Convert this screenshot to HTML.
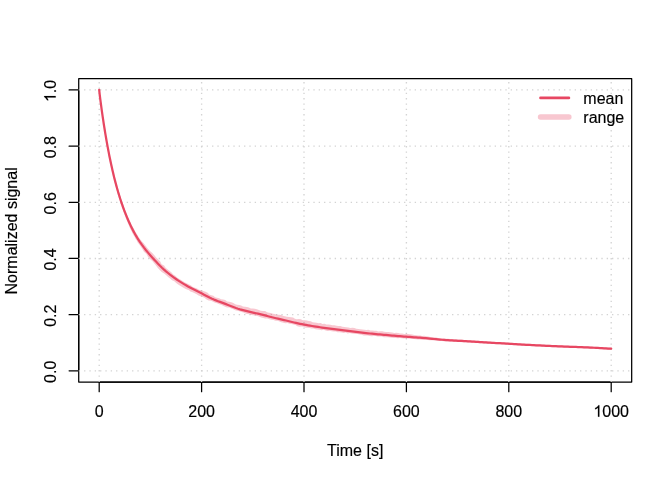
<!DOCTYPE html>
<html><head><meta charset="utf-8"><title>plot</title>
<style>
html,body{margin:0;padding:0;background:#fff;}
svg{display:block;}
svg{will-change:transform;}
text{font-family:"Liberation Sans",sans-serif;font-size:16px;fill:#000;stroke:#000;stroke-width:0.16px;}
</style></head><body>
<svg width="672" height="480" viewBox="0 0 672 480">
<rect x="0" y="0" width="672" height="480" fill="#fff"/>

<rect x="78.72" y="78.72" width="552.96" height="303.36" fill="none" stroke="#000" stroke-width="1.25" stroke-linejoin="round"/>
<g stroke="#000" stroke-width="1.25" fill="none" stroke-linecap="round">
<path d="M99.20,382.08 L611.20,382.08"/>
<path d="M99.20,382.08 L99.20,391.68"/>
<path d="M201.60,382.08 L201.60,391.68"/>
<path d="M304.00,382.08 L304.00,391.68"/>
<path d="M406.40,382.08 L406.40,391.68"/>
<path d="M508.80,382.08 L508.80,391.68"/>
<path d="M611.20,382.08 L611.20,391.68"/>
<path d="M78.72,370.84 L78.72,89.95"/>
<path d="M78.72,370.84 L69.12,370.84"/>
<path d="M78.72,314.67 L69.12,314.67"/>
<path d="M78.72,258.49 L69.12,258.49"/>
<path d="M78.72,202.31 L69.12,202.31"/>
<path d="M78.72,146.13 L69.12,146.13"/>
<path d="M78.72,89.95 L69.12,89.95"/>
</g>
<text x="99.20" y="416.64" text-anchor="middle">0</text>
<text x="201.60" y="416.64" text-anchor="middle">200</text>
<text x="304.00" y="416.64" text-anchor="middle">400</text>
<text x="406.40" y="416.64" text-anchor="middle">600</text>
<text x="508.80" y="416.64" text-anchor="middle">800</text>
<path transform="translate(593.403,416.640) scale(0.0078125,-0.0078125)" d="M763,0 H583 V1147 Q518,1085 412.5,1023 Q307,961 223,930 V1104 Q374,1175 487,1276 Q600,1377 647,1472 H763 Z" fill="#000" stroke="#000" stroke-width="20"/>
<text x="602.302" y="416.64">000</text>
<text transform="translate(55.68,371.84) rotate(-90)" text-anchor="middle">0.0</text>
<text transform="translate(55.68,315.67) rotate(-90)" text-anchor="middle">0.2</text>
<text transform="translate(55.68,259.49) rotate(-90)" text-anchor="middle">0.4</text>
<text transform="translate(55.68,203.31) rotate(-90)" text-anchor="middle">0.6</text>
<text transform="translate(55.68,147.13) rotate(-90)" text-anchor="middle">0.8</text>
<g transform="translate(55.68,90.95) rotate(-90)"><path transform="translate(-11.121,0.000) scale(0.0078125,-0.0078125)" d="M763,0 H583 V1147 Q518,1085 412.5,1023 Q307,961 223,930 V1104 Q374,1175 487,1276 Q600,1377 647,1472 H763 Z" fill="#000" stroke="#000" stroke-width="20"/><text x="-2.223" y="0">.0</text></g>
<text x="355.2" y="456" text-anchor="middle">Time [s]</text>
<text transform="translate(17.28,230.9) rotate(-90)" text-anchor="middle">Normalized signal</text>
<g stroke="#d3d3d3" stroke-width="1.333" fill="none" stroke-dasharray="1.333 4">
<path d="M99.20,382.08 L99.20,78.72"/>
<path d="M201.60,382.08 L201.60,78.72"/>
<path d="M304.00,382.08 L304.00,78.72"/>
<path d="M406.40,382.08 L406.40,78.72"/>
<path d="M508.80,382.08 L508.80,78.72"/>
<path d="M611.20,382.08 L611.20,78.72"/>
<path d="M78.72,370.84 L631.68,370.84"/>
<path d="M78.72,314.67 L631.68,314.67"/>
<path d="M78.72,258.49 L631.68,258.49"/>
<path d="M78.72,202.31 L631.68,202.31"/>
<path d="M78.72,146.13 L631.68,146.13"/>
<path d="M78.72,89.95 L631.68,89.95"/>
</g>
<path d="M99.50,89.93 L100.01,94.47 L100.52,98.57 L101.03,102.44 L101.54,106.17 L102.06,109.79 L102.57,113.32 L103.08,116.76 L103.59,120.12 L104.10,123.40 L104.62,126.60 L105.13,129.73 L105.64,132.79 L106.15,135.77 L106.66,138.68 L107.17,141.53 L107.68,144.31 L108.20,147.03 L108.71,149.68 L109.22,152.28 L109.73,154.82 L110.24,157.29 L110.75,159.72 L111.26,162.09 L111.77,164.40 L112.29,166.67 L112.80,168.88 L113.31,171.05 L113.82,173.17 L114.33,175.24 L114.84,177.27 L115.35,179.25 L115.86,181.19 L116.37,183.09 L116.88,184.95 L117.39,186.77 L117.91,188.55 L118.42,190.29 L118.93,192.00 L119.44,193.67 L119.95,195.31 L120.46,196.91 L120.97,198.48 L121.49,200.02 L122.01,201.52 L122.53,202.99 L123.05,204.44 L123.57,205.85 L124.09,207.24 L124.61,208.60 L125.13,209.93 L125.65,211.24 L126.17,212.52 L126.69,213.78 L127.21,215.01 L127.70,216.24 L128.22,217.42 L128.78,218.57 L129.29,219.72 L129.82,220.83 L130.38,221.92 L130.86,223.01 L131.29,224.12 L131.84,225.14 L132.41,226.13 L132.86,227.16 L133.51,228.07 L134.03,229.03 L134.53,229.98 L134.96,230.94 L135.57,231.80 L135.90,232.78 L136.47,233.62 L137.04,234.44 L137.66,235.21 L138.11,236.07 L138.51,236.93 L139.11,237.67 L139.63,238.43 L140.15,239.19 L140.61,239.96 L141.25,240.61 L141.56,241.00 L143.85,243.62 L145.98,246.14 L147.93,248.65 L149.99,250.96 L152.29,252.97 L154.32,255.13 L156.14,257.45 L158.18,259.53 L160.23,261.54 L161.60,264.15 L164.06,265.56 L165.62,267.79 L167.64,269.42 L169.70,270.91 L171.54,272.61 L173.17,274.53 L175.30,275.75 L176.99,277.53 L179.01,278.80 L181.05,279.99 L182.95,281.34 L185.00,282.41 L187.04,283.45 L189.08,284.47 L191.07,285.54 L192.83,286.99 L194.97,287.72 L197.01,288.61 L198.91,289.77 L201.17,290.24 L203.30,291.06 L205.49,291.79 L207.59,292.70 L209.23,294.39 L211.22,295.30 L213.30,295.86 L215.03,297.13 L217.02,297.82 L219.12,298.22 L220.99,299.25 L223.20,299.42 L225.26,300.06 L227.06,301.42 L229.25,301.77 L231.36,302.33 L233.41,302.94 L235.20,304.13 L237.12,304.86 L239.21,304.97 L241.14,305.48 L242.92,306.53 L244.93,306.82 L246.96,307.04 L248.98,307.38 L250.83,308.39 L252.91,308.38 L254.93,308.66 L256.88,309.31 L258.82,310.09 L260.83,310.67 L262.92,310.94 L265.08,310.99 L266.93,312.18 L268.92,312.73 L270.99,312.94 L272.90,313.70 L274.88,314.10 L276.83,314.68 L278.91,314.68 L280.93,314.97 L282.88,315.64 L284.85,316.35 L286.93,316.65 L289.03,316.92 L291.12,317.13 L293.10,317.57 L294.90,318.70 L296.81,319.34 L298.93,319.04 L300.91,319.36 L302.80,320.16 L304.83,320.26 L306.81,320.54 L308.74,321.11 L310.75,321.21 L312.61,322.28 L314.62,322.42 L316.60,322.77 L318.55,323.25 L320.62,322.90 L322.48,323.97 L324.53,323.72 L326.44,324.53 L328.46,324.57 L330.47,324.82 L332.45,325.31 L334.49,325.34 L336.49,325.63 L338.46,326.12 L340.49,326.08 L342.42,326.85 L344.41,327.12 L346.42,327.28 L348.41,327.55 L350.39,327.97 L352.45,327.69 L354.45,328.03 L356.39,328.85 L358.41,328.94 L360.39,329.32 L362.39,329.42 L364.35,329.80 L366.35,329.88 L368.37,329.81 L370.31,330.42 L372.32,330.45 L374.31,330.71 L376.30,330.81 L378.25,331.49 L380.28,331.22 L382.29,331.28 L384.27,331.71 L386.26,332.11 L388.28,332.07 L390.29,332.25 L392.28,332.49 L394.25,333.03 L396.29,332.71 L398.28,332.92 L400.23,333.44 L402.23,333.52 L404.19,334.03 L406.21,333.66 L408.20,333.98 L410.19,334.31 L412.19,334.47 L414.17,334.99 L416.17,335.15 L418.16,335.41 L420.17,335.49 L422.15,335.92 L424.18,335.85 L426.17,336.26 L428.18,336.53 L430.17,336.91 L432.18,337.03 L434.17,337.29 L436.16,337.62 L438.13,337.97 L440.13,338.13 L442.11,338.43 L444.10,338.47 L446.09,338.67 L448.08,338.86 L450.08,338.96 L452.08,339.08 L454.08,339.27 L456.08,339.32 L458.07,339.50 L460.07,339.57 L462.07,339.70 L464.07,339.90 L466.07,339.98 L468.07,340.14 L470.08,340.24 L472.08,340.40 L474.08,340.55 L476.08,340.66 L478.07,340.86 L480.07,340.96 L482.07,341.11 L484.07,341.26 L486.07,341.37 L488.06,341.51 L490.06,341.63 L492.06,341.77 L494.06,341.89 L496.05,342.01 L498.05,342.13 L500.05,342.24 L502.05,342.35 L504.05,342.45 L506.05,342.56 L508.05,342.67 L510.06,342.78 L512.06,342.89 L514.06,343.01 L516.06,343.13 L518.06,343.26 L520.06,343.39 L522.06,343.52 L524.06,343.64 L526.06,343.76 L528.06,343.87 L530.06,343.99 L532.05,344.09 L534.05,344.20 L536.05,344.30 L538.05,344.40 L540.05,344.50 L542.05,344.59 L544.05,344.69 L546.05,344.78 L548.05,344.87 L550.05,344.96 L552.04,345.05 L554.04,345.14 L556.04,345.23 L558.04,345.32 L560.04,345.40 L562.04,345.48 L564.04,345.55 L566.04,345.63 L568.03,345.69 L570.03,345.76 L572.03,345.83 L574.03,345.90 L576.03,345.97 L578.04,346.04 L580.04,346.11 L582.04,346.19 L584.04,346.27 L586.04,346.35 L588.05,346.44 L590.05,346.54 L592.05,346.64 L594.05,346.75 L596.05,346.86 L598.05,346.97 L600.06,347.08 L602.06,347.19 L604.06,347.31 L606.06,347.43 L608.06,347.55 L610.06,347.66 L611.25,347.73 L611.15,349.72 L609.94,349.66 L607.94,349.55 L605.94,349.43 L603.94,349.31 L601.94,349.19 L599.94,349.07 L597.95,348.96 L595.95,348.85 L593.95,348.75 L591.95,348.64 L589.95,348.54 L587.95,348.44 L585.96,348.35 L583.96,348.26 L581.96,348.19 L579.96,348.11 L577.96,348.04 L575.97,347.97 L573.97,347.90 L571.97,347.83 L569.97,347.76 L567.97,347.69 L565.96,347.62 L563.96,347.55 L561.96,347.48 L559.96,347.40 L557.96,347.31 L555.96,347.23 L553.96,347.14 L551.96,347.05 L549.95,346.96 L547.95,346.87 L545.95,346.78 L543.95,346.68 L541.95,346.59 L539.95,346.49 L537.95,346.40 L535.95,346.30 L533.95,346.20 L531.95,346.09 L529.94,345.98 L527.94,345.87 L525.94,345.75 L523.94,345.64 L521.94,345.51 L519.94,345.39 L517.94,345.26 L515.94,345.13 L513.94,345.00 L511.94,344.89 L509.94,344.78 L507.95,344.66 L505.95,344.56 L503.95,344.45 L501.95,344.34 L499.95,344.24 L497.95,344.15 L495.95,344.06 L493.94,343.96 L491.94,343.86 L489.94,343.74 L487.94,343.64 L485.93,343.55 L483.93,343.41 L481.93,343.33 L479.93,343.17 L477.93,343.07 L475.93,342.94 L473.93,342.85 L471.93,342.70 L469.93,342.60 L467.93,342.51 L465.93,342.34 L463.93,342.26 L461.94,342.15 L459.93,342.08 L457.93,341.97 L455.93,341.81 L453.93,341.70 L451.93,341.62 L449.93,341.48 L447.92,341.41 L445.91,341.37 L443.91,341.16 L441.90,341.00 L439.89,340.80 L437.88,340.66 L435.87,340.46 L433.85,340.48 L431.86,340.13 L429.84,340.20 L427.84,340.05 L425.87,339.66 L423.88,339.49 L421.86,339.68 L419.87,339.48 L417.86,339.39 L415.85,339.36 L413.87,338.97 L411.86,339.10 L409.87,338.80 L407.88,338.51 L405.87,338.51 L403.85,338.57 L401.85,338.26 L399.85,338.10 L397.82,338.15 L395.82,337.91 L393.79,338.03 L391.80,337.69 L389.80,337.49 L387.81,337.26 L385.78,337.37 L383.79,337.22 L381.85,336.41 L379.83,336.46 L377.80,336.48 L375.82,335.97 L373.80,335.97 L371.76,336.13 L369.75,335.99 L367.76,335.55 L365.73,335.59 L363.71,335.41 L361.75,334.74 L359.74,334.47 L357.76,334.02 L355.71,334.10 L353.72,333.86 L351.73,333.54 L349.76,333.11 L347.68,333.45 L345.76,332.55 L343.67,333.00 L341.70,332.42 L339.70,332.18 L337.64,332.31 L335.70,331.55 L333.67,331.53 L331.69,331.16 L329.73,330.63 L327.65,331.10 L325.69,330.53 L323.73,329.87 L321.63,330.22 L319.65,329.69 L317.60,329.58 L315.61,329.16 L313.64,328.58 L311.60,328.44 L309.60,328.03 L307.56,327.86 L305.48,327.85 L303.57,326.85 L301.56,326.42 L299.42,326.63 L297.39,326.26 L295.53,325.07 L293.50,324.61 L291.49,324.06 L289.45,323.67 L287.47,323.09 L285.36,323.15 L283.39,322.67 L281.38,322.33 L279.50,321.39 L277.52,320.81 L275.44,320.63 L273.48,319.89 L271.40,319.63 L269.35,319.24 L267.43,318.38 L265.27,318.47 L263.29,317.91 L261.27,317.59 L259.41,316.68 L257.45,316.12 L255.43,315.82 L253.43,315.35 L251.39,315.02 L249.44,314.25 L247.38,313.98 L245.34,313.58 L243.47,312.50 L241.42,312.04 L239.40,311.36 L237.33,310.79 L235.23,310.24 L233.24,309.33 L231.26,308.44 L229.26,307.59 L227.04,307.39 L225.01,306.72 L223.13,305.73 L221.23,304.74 L219.11,304.32 L217.19,303.31 L215.09,302.70 L213.07,301.80 L211.03,300.85 L208.68,300.46 L206.57,299.51 L204.75,298.05 L202.75,297.02 L200.66,296.24 L198.53,295.56 L196.71,294.21 L194.73,293.16 L192.70,292.14 L190.45,291.50 L188.67,289.94 L186.35,289.34 L184.32,288.18 L182.27,287.00 L180.22,285.77 L178.17,284.50 L176.20,283.03 L174.35,281.36 L172.12,280.19 L170.13,278.62 L168.13,277.00 L166.25,275.16 L164.17,273.48 L161.71,272.10 L159.72,270.08 L157.82,267.90 L155.99,265.61 L154.17,263.28 L152.30,260.97 L149.92,259.08 L147.95,256.76 L146.46,253.93 L143.97,251.83 L142.35,248.91 L140.39,246.11 L138.36,243.23 L137.91,242.84 L137.38,242.08 L137.09,241.16 L136.67,240.31 L136.06,239.56 L135.44,238.81 L135.17,237.83 L134.54,237.05 L134.14,236.12 L133.57,235.27 L133.14,234.32 L132.63,233.40 L132.06,232.50 L131.72,231.45 L131.14,230.52 L130.68,229.50 L130.27,228.44 L129.68,227.46 L129.29,226.36 L128.83,225.27 L128.30,224.19 L127.82,223.07 L127.40,221.91 L126.84,220.78 L126.41,219.58 L125.94,218.38 L125.45,217.16 L124.99,215.91 L124.50,214.65 L124.01,213.36 L123.53,212.05 L123.05,210.71 L122.58,209.35 L122.10,207.96 L121.62,206.54 L121.14,205.10 L120.67,203.63 L120.19,202.13 L119.71,200.60 L119.24,199.04 L118.76,197.44 L118.27,195.82 L117.78,194.17 L117.30,192.48 L116.81,190.75 L116.33,188.99 L115.84,187.20 L115.36,185.36 L114.87,183.49 L114.39,181.57 L113.90,179.62 L113.42,177.62 L112.93,175.58 L112.45,173.49 L111.97,171.36 L111.48,169.18 L111.00,166.95 L110.51,164.68 L110.03,162.35 L109.54,159.97 L109.06,157.54 L108.58,155.05 L108.09,152.50 L107.61,149.89 L107.12,147.23 L106.64,144.50 L106.16,141.71 L105.67,138.86 L105.19,135.93 L104.70,132.94 L104.22,129.88 L103.74,126.74 L103.25,123.53 L102.77,120.24 L102.29,116.88 L101.80,113.43 L101.32,109.89 L100.84,106.26 L100.35,102.53 L99.87,98.65 L99.39,94.54 L98.90,89.99Z" fill="#E74762" fill-opacity="0.3" stroke="none"/>
<path d="M99.20,89.96 L99.70,94.51 L100.20,98.61 L100.70,102.48 L101.20,106.21 L101.70,109.84 L102.20,113.37 L102.70,116.82 L103.20,120.18 L103.70,123.46 L104.20,126.67 L104.70,129.80 L105.20,132.86 L105.70,135.85 L106.20,138.76 L106.70,141.61 L107.20,144.40 L107.70,147.12 L108.20,149.78 L108.70,152.38 L109.20,154.92 L109.70,157.41 L110.20,159.83 L110.70,162.21 L111.20,164.53 L111.70,166.80 L112.20,169.02 L112.70,171.19 L113.20,173.31 L113.70,175.39 L114.20,177.43 L114.70,179.41 L115.20,181.36 L115.70,183.27 L116.20,185.13 L116.70,186.96 L117.20,188.75 L117.70,190.50 L118.20,192.21 L118.70,193.89 L119.20,195.54 L119.70,197.15 L120.20,198.73 L120.70,200.27 L121.20,201.79 L121.70,203.28 L122.20,204.73 L122.70,206.16 L123.20,207.56 L123.70,208.94 L124.20,210.28 L124.70,211.60 L125.20,212.90 L125.70,214.17 L126.20,215.42 L126.70,216.65 L127.20,217.85 L127.70,219.03 L128.20,220.19 L128.70,221.33 L129.20,222.45 L129.70,223.55 L130.20,224.63 L130.70,225.68 L131.20,226.72 L131.70,227.74 L132.20,228.74 L132.70,229.72 L133.20,230.68 L133.70,231.62 L134.20,232.54 L134.70,233.45 L135.20,234.34 L135.70,235.21 L136.20,236.07 L136.70,236.91 L137.20,237.74 L137.70,238.55 L138.20,239.34 L138.70,240.12 L139.20,240.89 L139.70,241.64 L140.00,242.09 L142.00,244.95 L144.00,247.65 L146.00,250.20 L148.00,252.63 L150.00,254.96 L152.00,257.21 L154.00,259.41 L156.00,261.57 L158.00,263.68 L160.00,265.74 L162.00,267.71 L164.00,269.58 L166.00,271.34 L168.00,273.00 L170.00,274.59 L172.00,276.10 L174.00,277.56 L176.00,278.97 L178.00,280.32 L180.00,281.63 L182.00,282.88 L184.00,284.09 L186.00,285.26 L188.00,286.40 L190.00,287.50 L192.00,288.57 L194.00,289.61 L196.00,290.62 L198.00,291.61 L200.00,292.60 L202.00,293.60 L204.00,294.64 L206.00,295.70 L208.00,296.76 L210.00,297.78 L212.00,298.72 L214.00,299.59 L216.00,300.40 L218.00,301.18 L220.00,301.92 L222.00,302.66 L224.00,303.41 L226.00,304.17 L228.00,304.95 L230.00,305.75 L232.00,306.54 L234.00,307.32 L236.00,308.05 L238.00,308.72 L240.00,309.34 L242.00,309.90 L244.00,310.43 L246.00,310.93 L248.00,311.42 L250.00,311.90 L252.00,312.37 L254.00,312.82 L256.00,313.26 L258.00,313.71 L260.00,314.17 L262.00,314.65 L264.00,315.16 L266.00,315.69 L268.00,316.22 L270.00,316.74 L272.00,317.26 L274.00,317.75 L276.00,318.23 L278.00,318.68 L280.00,319.13 L282.00,319.58 L284.00,320.03 L286.00,320.50 L288.00,320.99 L290.00,321.51 L292.00,322.01 L294.00,322.50 L296.00,322.96 L298.00,323.39 L300.00,323.81 L302.00,324.21 L304.00,324.60 L306.00,324.97 L308.00,325.33 L310.00,325.67 L312.00,326.00 L314.00,326.33 L316.00,326.64 L318.00,326.95 L320.00,327.24 L322.00,327.52 L324.00,327.79 L326.00,328.04 L328.00,328.29 L330.00,328.54 L332.00,328.79 L334.00,329.06 L336.00,329.33 L338.00,329.59 L340.00,329.86 L342.00,330.12 L344.00,330.37 L346.00,330.62 L348.00,330.87 L350.00,331.12 L352.00,331.36 L354.00,331.61 L356.00,331.87 L358.00,332.12 L360.00,332.38 L362.00,332.63 L364.00,332.86 L366.00,333.08 L368.00,333.30 L370.00,333.50 L372.00,333.70 L374.00,333.90 L376.00,334.09 L378.00,334.27 L380.00,334.45 L382.00,334.62 L384.00,334.79 L386.00,334.97 L388.00,335.15 L390.00,335.34 L392.00,335.52 L394.00,335.71 L396.00,335.89 L398.00,336.07 L400.00,336.24 L402.00,336.41 L404.00,336.56 L406.00,336.70 L408.00,336.84 L410.00,336.98 L412.00,337.12 L414.00,337.27 L416.00,337.42 L418.00,337.57 L420.00,337.72 L422.00,337.87 L424.00,338.03 L426.00,338.20 L428.00,338.39 L430.00,338.59 L432.00,338.79 L434.00,339.00 L436.00,339.20 L438.00,339.40 L440.00,339.58 L442.00,339.75 L444.00,339.90 L446.00,340.04 L448.00,340.17 L450.00,340.29 L452.00,340.42 L454.00,340.54 L456.00,340.66 L458.00,340.77 L460.00,340.88 L462.00,340.99 L464.00,341.10 L466.00,341.22 L468.00,341.34 L470.00,341.46 L472.00,341.59 L474.00,341.72 L476.00,341.85 L478.00,341.97 L480.00,342.10 L482.00,342.22 L484.00,342.35 L486.00,342.47 L488.00,342.59 L490.00,342.70 L492.00,342.82 L494.00,342.93 L496.00,343.04 L498.00,343.14 L500.00,343.24 L502.00,343.35 L504.00,343.45 L506.00,343.56 L508.00,343.67 L510.00,343.78 L512.00,343.89 L514.00,344.01 L516.00,344.13 L518.00,344.26 L520.00,344.39 L522.00,344.51 L524.00,344.64 L526.00,344.76 L528.00,344.87 L530.00,344.98 L532.00,345.09 L534.00,345.20 L536.00,345.30 L538.00,345.40 L540.00,345.49 L542.00,345.59 L544.00,345.69 L546.00,345.78 L548.00,345.87 L550.00,345.96 L552.00,346.05 L554.00,346.14 L556.00,346.23 L558.00,346.31 L560.00,346.40 L562.00,346.48 L564.00,346.55 L566.00,346.62 L568.00,346.69 L570.00,346.76 L572.00,346.83 L574.00,346.90 L576.00,346.97 L578.00,347.04 L580.00,347.11 L582.00,347.19 L584.00,347.26 L586.00,347.35 L588.00,347.44 L590.00,347.54 L592.00,347.64 L594.00,347.75 L596.00,347.85 L598.00,347.96 L600.00,348.08 L602.00,348.19 L604.00,348.31 L606.00,348.43 L608.00,348.55 L610.00,348.66 L611.20,348.73" fill="none" stroke="#E74762" stroke-width="2.25" stroke-linejoin="round" stroke-linecap="round"/>
<path d="M540.5,97.9 L568.9,97.9" stroke="#E74762" stroke-width="2.67" stroke-linecap="round" fill="none"/>
<path d="M540.5,117.05 L568.9,117.05" stroke="#E74762" stroke-opacity="0.3" stroke-width="5.4" stroke-linecap="round" fill="none"/>
<text x="583.3" y="103.7">mean</text>
<text x="583.3" y="122.9">range</text>
</svg></body></html>
